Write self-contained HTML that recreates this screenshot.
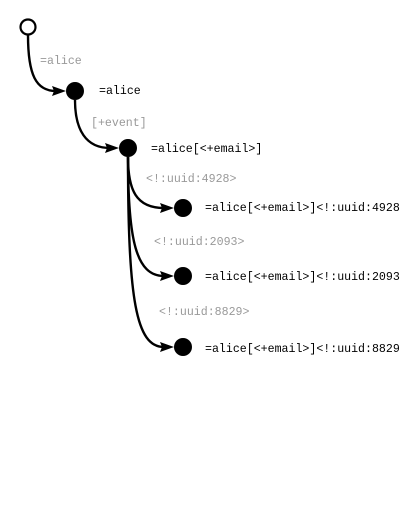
<!DOCTYPE html>
<html><head><style>
html,body{margin:0;padding:0;background:#fff;}
svg{display:block;}
text{font-family:"Liberation Mono",monospace;font-size:11.6px;}
.g{fill:#999;}
.b{fill:#000;}
</style></head><body>
<svg width="400" height="518" viewBox="0 0 400 518">
<g fill="none" stroke="#000" stroke-width="2.4">
<path d="M28,35 C28,75 36,91 56,91"/>
<path d="M75,100 C75,130 86,148 110,148"/>
<path d="M128,157 C128,190 136,208 164,208"/>
<path d="M128,157 C128,240 136,276 164,276"/>
<path d="M128,157 C128,300 136,347 164,347"/>
</g>
<g fill="#000">
<polygon points="66,91 52,86 54,91 52,96"/>
<polygon points="119,148 105,143 107,148 105,153"/>
<polygon points="174,208 160,203 162,208 160,213"/>
<polygon points="174,276 160,271 162,276 160,281"/>
<polygon points="174,347 160,342 162,347 160,352"/>
</g>
<circle cx="28" cy="27" r="7.5" fill="#fff" stroke="#000" stroke-width="2.2"/>
<circle cx="75" cy="91" r="9" fill="#000"/>
<circle cx="128" cy="148" r="9" fill="#000"/>
<circle cx="183" cy="208" r="9" fill="#000"/>
<circle cx="183" cy="276" r="9" fill="#000"/>
<circle cx="183" cy="347" r="9" fill="#000"/>
<text class="g" x="40" y="64">=alice</text>
<text class="b" x="99" y="94">=alice</text>
<text class="g" x="91" y="126">[+event]</text>
<text class="b" x="151" y="152">=alice[&lt;+email&gt;]</text>
<text class="g" x="146" y="182">&lt;!:uuid:4928&gt;</text>
<text class="b" x="205" y="211">=alice[&lt;+email&gt;]&lt;!:uuid:4928&gt;</text>
<text class="g" x="154" y="245">&lt;!:uuid:2093&gt;</text>
<text class="b" x="205" y="280">=alice[&lt;+email&gt;]&lt;!:uuid:2093&gt;</text>
<text class="g" x="159" y="315">&lt;!:uuid:8829&gt;</text>
<text class="b" x="205" y="352">=alice[&lt;+email&gt;]&lt;!:uuid:8829&gt;</text>
</svg>
</body></html>
